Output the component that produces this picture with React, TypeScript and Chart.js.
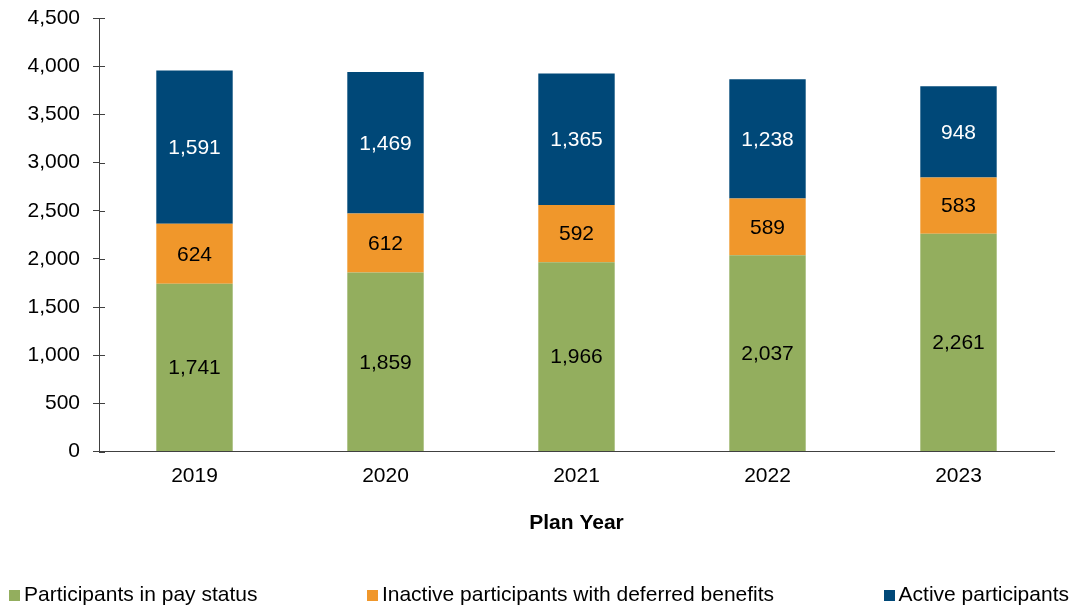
import React, { useEffect, useRef } from "react";
import { Chart, registerables } from "chart.js";

Chart.register(...registerables);

const categories = ["2019", "2020", "2021", "2022", "2023"];
const seriesNames = [
  "Participants in pay status",
  "Inactive participants with deferred benefits",
  "Active participants",
];
const payStatus = [1741, 1859, 1966, 2037, 2261];
const inactiveDeferred = [624, 612, 592, 589, 583];
const activeParticipants = [1591, 1469, 1365, 1238, 948];
const seriesColors = ["#93AE5E", "#F0972B", "#004878"];
const labelColors = ["#000000", "#000000", "#FFFFFF"];
const yTickMax = 4500;
const yTickStep = 500;
const xTitle = "Plan Year";

const FONT = '"Liberation Sans", Arial, Helvetica, sans-serif';
const AXIS_COLOR = "#404040";

const fmt = (v: number) => v.toLocaleString("en-US");

const dataLabelPlugin = {
  id: "segLabels",
  afterDatasetsDraw(chart: any) {
    const ctx = chart.ctx;
    ctx.save();
    ctx.font = `21px ${FONT}`;
    ctx.textAlign = "center";
    ctx.textBaseline = "middle";
    chart.data.datasets.forEach((ds: any, di: number) => {
      const meta = chart.getDatasetMeta(di);
      meta.data.forEach((el: any, i: number) => {
        const v = ds.data[i];
        ctx.fillStyle = labelColors[di];
        ctx.fillText(fmt(v), el.x, (el.y + el.base) / 2 + 1);
      });
    });
    ctx.restore();
  },
};

const innerTickPlugin = {
  id: "innerTicks",
  afterDraw(chart: any) {
    const y = chart.scales.y;
    const ctx = chart.ctx;
    ctx.save();
    ctx.strokeStyle = AXIS_COLOR;
    ctx.lineWidth = 1;
    y.ticks.forEach((t: any) => {
      const py = Math.round(y.getPixelForValue(t.value)) + 0.5;
      ctx.beginPath();
      ctx.moveTo(y.right, py);
      ctx.lineTo(y.right + 6, py);
      ctx.stroke();
    });
    ctx.restore();
  },
};

export default function App() {
  const ref = useRef<HTMLCanvasElement>(null);

  useEffect(() => {
    if (!ref.current) return;
    const values = [payStatus, inactiveDeferred, activeParticipants];
    const chart = new Chart(ref.current, {
      type: "bar",
      data: {
        labels: categories,
        datasets: values.map((d, i) => ({
          label: seriesNames[i],
          data: d,
          backgroundColor: seriesColors[i],
          borderWidth: 0,
          barPercentage: 0.4,
          categoryPercentage: 1,
        })),
      },
      options: {
        animation: false,
        responsive: false,
        maintainAspectRatio: false,
        layout: { padding: { left: 0, right: 21, top: 18, bottom: 69 } },
        plugins: {
          legend: { display: false },
          tooltip: { enabled: false },
        },
        scales: {
          x: {
            stacked: true,
            grid: { display: false, drawTicks: false },
            border: { display: true, color: AXIS_COLOR, width: 1 },
            ticks: {
              color: "#000",
              font: { family: FONT, size: 21 },
              padding: 12,
            },
            title: {
              display: true,
              text: xTitle,
              color: "#000",
              font: { family: FONT, size: 21, weight: "bold" },
              padding: { top: 10, bottom: 0 },
            },
          },
          y: {
            stacked: true,
            min: 0,
            max: yTickMax,
            afterFit: (s: any) => {
              s.width = 99;
              s.paddingTop = 0;
              s.paddingBottom = 0;
            },
            grid: {
              display: true,
              drawOnChartArea: false,
              drawTicks: true,
              tickLength: 6,
              color: AXIS_COLOR,
            },
            border: { display: true, color: AXIS_COLOR, width: 1 },
            ticks: {
              stepSize: yTickStep,
              color: "#000",
              font: { family: FONT, size: 21 },
              padding: 13,
              callback: (v: any) => fmt(Number(v)),
            },
          },
        },
      },
      plugins: [dataLabelPlugin, innerTickPlugin],
    });
    return () => chart.destroy();
  }, []);

  return (
    <div
      style={{
        position: "absolute",
        left: 0,
        top: 0,
        width: 1075,
        height: 605,
        background: "#fff",
        fontFamily: FONT,
      }}
    >
      <canvas ref={ref} width={1075} height={605} style={{ display: "block" }} />
      <div
        style={{
          position: "absolute",
          left: 9,
          width: 1060,
          top: 582,
          height: 24,
          display: "flex",
          justifyContent: "space-between",
          alignItems: "baseline",
          fontSize: 21,
          lineHeight: "24px",
          color: "#000",
          whiteSpace: "nowrap",
        }}
      >
        {seriesNames.map((n, i) => (
          <span key={n}>
            <span
              style={{
                display: "inline-block",
                width: 11,
                height: 11,
                background: seriesColors[i],
                marginRight: 4,
              }}
            />
            {n}
          </span>
        ))}
      </div>
    </div>
  );
}
